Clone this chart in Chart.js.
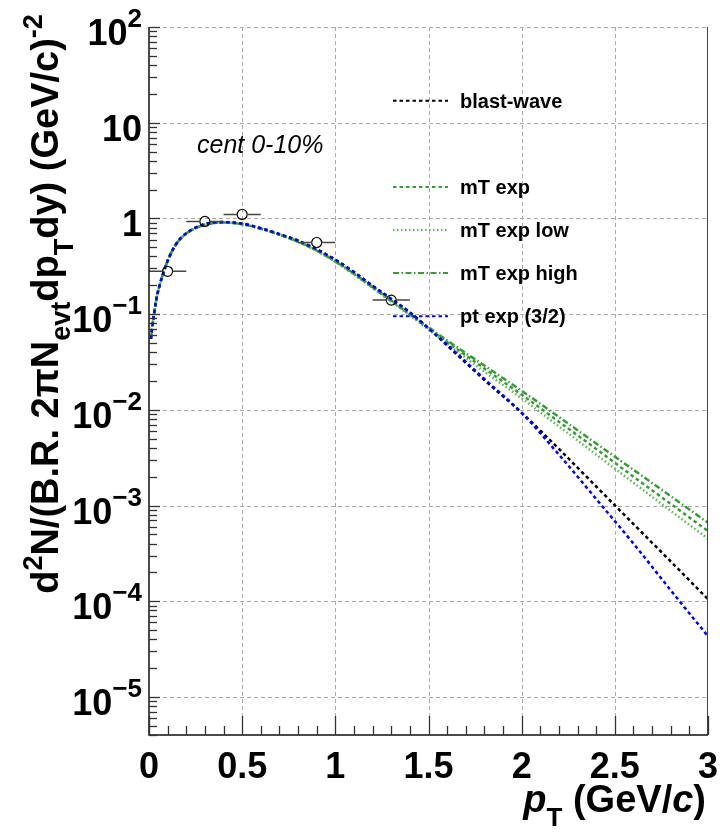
<!DOCTYPE html>
<html>
<head>
<meta charset="utf-8">
<script src="https://cdn.jsdelivr.net/npm/chart.js@4.4.1/dist/chart.umd.min.js"></script>
<style>
  html, body { margin: 0; padding: 0; background: #fff; }
  #wrap { width: 720px; height: 840px; }
</style>
</head>
<body>
<div id="wrap"><canvas id="chart" width="720" height="840"></canvas></div>
<script>
// pT grid shared by all model curves (GeV/c)
const ptX = [0.01, 0.02, 0.04, 0.06, 0.08, 0.1, 0.13, 0.16, 0.2, 0.25, 0.3, 0.35, 0.4, 0.45, 0.5,
             0.6, 0.7, 0.8, 0.9, 1.0, 1.1, 1.2, 1.3, 1.4, 1.5, 1.6, 1.8, 2.0, 2.2, 2.4, 2.6, 2.8, 3.0];

const blastWave = [0.055, 0.08, 0.145, 0.21, 0.28, 0.36, 0.48, 0.59, 0.70, 0.80, 0.87, 0.905, 0.915, 0.905, 0.88,
                   0.79, 0.685, 0.585, 0.475, 0.37, 0.275, 0.197, 0.144, 0.104, 0.071, 0.047, 0.0205, 0.0093,
                   0.0039, 0.00158, 0.00064, 0.00026, 0.000105];
const mtExp = [0.055, 0.08, 0.145, 0.21, 0.28, 0.36, 0.48, 0.585, 0.695, 0.79, 0.86, 0.895, 0.905, 0.895, 0.87,
               0.78, 0.675, 0.57, 0.46, 0.355, 0.262, 0.19, 0.137, 0.099, 0.071, 0.051, 0.027, 0.0144,
               0.0075, 0.0039, 0.0020, 0.00104, 0.00054];
const mtExpLow = [0.055, 0.08, 0.145, 0.21, 0.28, 0.36, 0.48, 0.585, 0.695, 0.79, 0.86, 0.895, 0.905, 0.895, 0.87,
                  0.78, 0.675, 0.568, 0.457, 0.352, 0.259, 0.187, 0.135, 0.097, 0.069, 0.049, 0.025, 0.0132,
                  0.0067, 0.0034, 0.00173, 0.00088, 0.00045];
const mtExpHigh = [0.055, 0.08, 0.145, 0.21, 0.28, 0.36, 0.48, 0.585, 0.695, 0.79, 0.86, 0.895, 0.905, 0.895, 0.87,
                   0.78, 0.676, 0.572, 0.462, 0.357, 0.265, 0.193, 0.139, 0.100, 0.073, 0.053, 0.029, 0.0158,
                   0.0084, 0.00445, 0.00236, 0.00125, 0.00066];
const ptExp = [0.055, 0.08, 0.145, 0.21, 0.28, 0.36, 0.48, 0.59, 0.70, 0.80, 0.87, 0.905, 0.915, 0.905, 0.88,
               0.79, 0.685, 0.585, 0.475, 0.37, 0.275, 0.197, 0.144, 0.104, 0.071, 0.048, 0.021, 0.0093,
               0.0034, 0.00117, 0.0004, 0.00013, 0.000043];

// measured points with pT bin edges
const dataX = [0.1, 0.3, 0.5, 0.9, 1.3];
const dataY = [0.28, 0.93, 1.1, 0.56, 0.14];
const dataXLo = [0.0, 0.2, 0.4, 0.8, 1.2];
const dataXHi = [0.2, 0.4, 0.6, 1.0, 1.4];

// axis ticks
const xTickVals = [0, 0.5, 1, 1.5, 2, 2.5, 3];
const xTickLabels = ['0', '0.5', '1', '1.5', '2', '2.5', '3'];
const yTickVals = [1e-5, 1e-4, 1e-3, 1e-2, 1e-1, 1, 10, 100];
const yTickBase = ['10', '10', '10', '10', '10', '1', '10', '10'];
const yTickExp = ['\u22125', '\u22124', '\u22123', '\u22122', '\u22121', '', '', '2'];

const BOLD = '"Liberation Sans", Arial, Helvetica, sans-serif';

function xy(xs, ys) {
  return xs.map((x, i) => ({ x: x, y: ys[i] }));
}

function curve(label, ys, color, dash, order) {
  return {
    label: label,
    data: xy(ptX, ys),
    showLine: true,
    borderColor: color,
    borderWidth: 2.5,
    borderDash: dash,
    pointRadius: 0,
    cubicInterpolationMode: 'monotone',
    order: order,
  };
}

const datasets = [
  curve('blast-wave', blastWave, '#000000', [3.5, 3], 5),
  curve('mT exp', mtExp, '#3a9a3a', [3.5, 3], 4),
  curve('mT exp low', mtExpLow, '#55bb44', [1.5, 2.5], 3),
  curve('mT exp high', mtExpHigh, '#3a9a3a', [6, 2.5, 1.5, 2.5], 2),
  curve('pt exp (3/2)', ptExp, '#0000ff', [3.5, 3], 1),
  {
    label: 'data',
    data: xy(dataX, dataY),
    showLine: false,
    pointRadius: 5,
    pointBorderWidth: 1.2,
    pointBorderColor: '#000',
    pointBackgroundColor: 'rgba(0,0,0,0)',
    order: 0,
  },
];

// legend rows (row 1 is left empty, as in the original)
const legendRows = [0, 2, 3, 4, 5];

function drawRich(ctx, parts, x, y) {
  for (const p of parts) {
    ctx.font = p.font;
    ctx.fillText(p.t, x, y + (p.dy || 0));
    x += ctx.measureText(p.t).width;
  }
  return x;
}

function richWidth(ctx, parts) {
  let w = 0;
  for (const p of parts) {
    ctx.font = p.font;
    w += ctx.measureText(p.t).width;
  }
  return w;
}

const rootPlugin = {
  id: 'rootStyle',
  beforeDatasetsDraw(chart) {
    const { ctx, chartArea: a, scales: { x, y } } = chart;
    ctx.save();
    ctx.strokeStyle = '#aaaaaa';
    ctx.lineWidth = 1;
    ctx.setLineDash([4, 3]);
    for (const v of xTickVals.slice(1, -1)) {
      const px = Math.round(x.getPixelForValue(v)) + 0.5;
      ctx.beginPath(); ctx.moveTo(px, a.top); ctx.lineTo(px, a.bottom); ctx.stroke();
    }
    for (const v of yTickVals) {
      const py = Math.round(y.getPixelForValue(v)) + 0.5;
      ctx.beginPath(); ctx.moveTo(a.left, py); ctx.lineTo(a.right, py); ctx.stroke();
    }
    ctx.restore();
  },
  afterDatasetsDraw(chart) {
    const { ctx, chartArea: a, scales: { x, y } } = chart;
    ctx.save();

    // horizontal error bars
    ctx.strokeStyle = '#444';
    ctx.lineWidth = 1.5;
    dataX.forEach((v, i) => {
      const cx = x.getPixelForValue(v), cy = y.getPixelForValue(dataY[i]);
      const lo = x.getPixelForValue(dataXLo[i]), hi = x.getPixelForValue(dataXHi[i]);
      ctx.beginPath();
      ctx.moveTo(lo, cy); ctx.lineTo(cx - 5, cy);
      ctx.moveTo(cx + 5, cy); ctx.lineTo(hi, cy);
      ctx.stroke();
    });

    // frame
    ctx.strokeStyle = '#111';
    ctx.lineWidth = 1.5;
    ctx.beginPath();
    ctx.moveTo(a.left, a.top); ctx.lineTo(a.left, a.bottom); ctx.lineTo(a.right, a.bottom);
    ctx.stroke();
    ctx.strokeStyle = '#444';
    ctx.lineWidth = 1;
    ctx.beginPath();
    ctx.moveTo(a.right - 0.5, a.top); ctx.lineTo(a.right - 0.5, a.bottom);
    ctx.stroke();

    // x ticks (inside), major every 0.5, minor every 0.1
    ctx.strokeStyle = '#333';
    ctx.lineWidth = 1.3;
    for (let k = 0; k <= 30; k++) {
      const px = Math.round(x.getPixelForValue(k / 10)) + 0.5;
      const len = k % 5 === 0 ? 19 : 9;
      ctx.beginPath(); ctx.moveTo(px, a.bottom); ctx.lineTo(px, a.bottom - len); ctx.stroke();
    }
    // y ticks (inside), decades and 2..9
    for (let d = -6; d <= 2; d++) {
      for (let m = 1; m <= 9; m++) {
        const v = m * Math.pow(10, d);
        if (v < y.min || v > y.max) continue;
        const py = Math.round(y.getPixelForValue(v)) + 0.5;
        const len = m === 1 ? 11 : 8;
        ctx.beginPath(); ctx.moveTo(a.left, py); ctx.lineTo(a.left + len, py); ctx.stroke();
      }
    }

    // tick labels
    ctx.fillStyle = '#000';
    ctx.textBaseline = 'alphabetic';
    ctx.font = 'bold 36px ' + BOLD;
    ctx.textAlign = 'center';
    xTickVals.forEach((v, i) => {
      ctx.fillText(xTickLabels[i], x.getPixelForValue(v), 778);
    });
    ctx.textAlign = 'left';
    yTickVals.forEach((v, i) => {
      const py = y.getPixelForValue(v);
      const parts = [{ t: yTickBase[i], font: 'bold 36px ' + BOLD, dy: 18 }];
      if (yTickExp[i]) parts.push({ t: yTickExp[i], font: 'bold 26px ' + BOLD, dy: 0 });
      drawRich(ctx, parts, 142 - richWidth(ctx, parts), py);
    });

    // x title
    const xt = [
      { t: 'p', font: 'italic bold 38px ' + BOLD },
      { t: 'T', font: 'bold 26px ' + BOLD, dy: 14 },
      { t: ' (GeV/', font: 'bold 38px ' + BOLD },
      { t: 'c', font: 'italic bold 38px ' + BOLD },
      { t: ')', font: 'bold 38px ' + BOLD },
    ];
    drawRich(ctx, xt, 706 - richWidth(ctx, xt), 812);

    // y title, rotated
    const B = 'bold 38px ' + BOLD, S = 'bold 27px ' + BOLD;
    const yt = [
      { t: 'd', font: B }, { t: '2', font: S, dy: -16 },
      { t: 'N/(B.R. 2', font: B }, { t: '\u03c0', font: B },
      { t: 'N', font: B }, { t: 'evt', font: S, dy: 12 },
      { t: 'dp', font: B }, { t: 'T', font: S, dy: 15 },
      { t: 'dy) (GeV/c)', font: B }, { t: '-2', font: S, dy: -16 },
    ];
    ctx.save();
    ctx.translate(58, 304);
    ctx.rotate(-Math.PI / 2);
    drawRich(ctx, yt, -richWidth(ctx, yt) / 2, 0);
    ctx.restore();

    // annotation
    ctx.font = 'italic 25px ' + BOLD;
    ctx.fillText('cent 0-10%', 197, 153);

    // legend
    legendRows.forEach((row, i) => {
      const ds = chart.data.datasets[i];
      const ly = 100.7 + 43.1 * row;
      ctx.save();
      ctx.strokeStyle = ds.borderColor;
      ctx.lineWidth = 2;
      ctx.setLineDash(ds.borderDash);
      ctx.beginPath(); ctx.moveTo(393, ly); ctx.lineTo(448, ly); ctx.stroke();
      ctx.restore();
      ctx.font = 'bold 20px ' + BOLD;
      ctx.fillStyle = '#000';
      ctx.fillText(ds.label, 460, ly + 7);
    });

    ctx.restore();
  },
};

new Chart(document.getElementById('chart'), {
  type: 'scatter',
  data: { datasets: datasets },
  options: {
    responsive: false,
    animation: false,
    events: [],
    layout: { padding: { left: 149, right: 12, top: 27, bottom: 105 } },
    plugins: { legend: { display: false }, tooltip: { enabled: false } },
    scales: {
      x: {
        type: 'linear', min: 0, max: 3,
        ticks: { display: false },
        grid: { display: false },
        border: { display: false },
        afterFit: s => { s.height = 0; },
      },
      y: {
        type: 'logarithmic', min: 4e-6, max: 100,
        ticks: { display: false },
        grid: { display: false },
        border: { display: false },
        afterFit: s => { s.width = 0; },
      },
    },
  },
  plugins: [rootPlugin],
});
</script>
</body>
</html>
